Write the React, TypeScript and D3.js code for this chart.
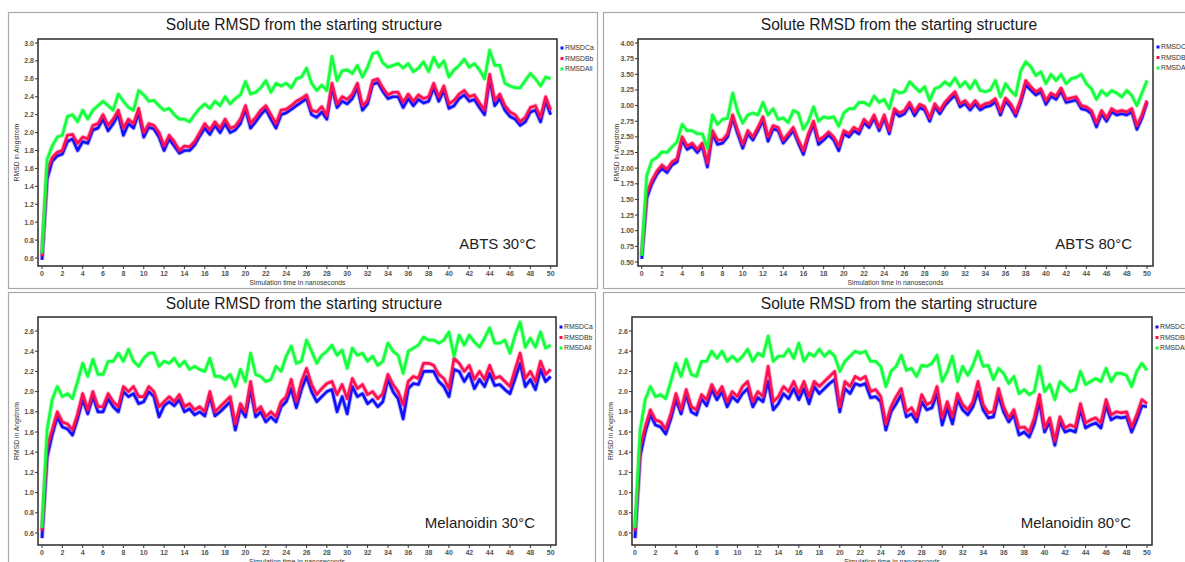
import React from "react";
import * as d3 from "d3";

// sampling grid, ns
const times = d3.range(0, 50.001, 0.5);

const abts30All = [
  0.65, 1.7, 1.85, 1.95, 1.97, 2.18, 2.2, 2.12, 2.25, 2.15,
  2.25, 2.3, 2.35, 2.3, 2.25, 2.43, 2.35, 2.28, 2.25, 2.47,
  2.42, 2.35, 2.36, 2.3, 2.25, 2.27, 2.2, 2.15, 2.15, 2.12,
  2.2, 2.27, 2.32, 2.27, 2.35, 2.3, 2.4, 2.32, 2.38, 2.42,
  2.57, 2.43, 2.45, 2.5, 2.58, 2.45, 2.55, 2.52, 2.55, 2.5,
  2.6, 2.62, 2.72, 2.55, 2.47, 2.53, 2.47, 2.85, 2.58, 2.69,
  2.7, 2.66, 2.75, 2.62, 2.73, 2.88, 2.9, 2.78, 2.73, 2.75,
  2.77, 2.72, 2.77, 2.68, 2.72, 2.79, 2.68, 2.84, 2.73, 2.8,
  2.62, 2.7, 2.75, 2.82, 2.73, 2.77, 2.7, 2.6, 2.92, 2.75,
  2.75, 2.55, 2.52, 2.5, 2.5, 2.58, 2.66, 2.6, 2.52, 2.62,
  2.6,
];
const abts30Bb = [
  0.62, 1.58, 1.72, 1.78, 1.8, 1.97, 1.98, 1.88, 1.95, 1.93,
  2.08, 2.1, 2.2, 2.08, 2.15, 2.25, 2.05, 2.15, 2.1, 2.27,
  2.0, 2.1, 2.08, 2.0, 1.85, 1.97, 1.9, 1.8, 1.85, 1.84,
  1.9, 2.0, 2.1, 2.03, 2.12, 2.05, 2.15, 2.05, 2.07, 2.15,
  2.3, 2.1, 2.17, 2.25, 2.3, 2.2, 2.1, 2.25, 2.26, 2.3,
  2.35, 2.38, 2.42, 2.25, 2.23, 2.29, 2.19, 2.55, 2.32, 2.4,
  2.37, 2.43, 2.55, 2.3, 2.36, 2.58, 2.6, 2.5, 2.42, 2.45,
  2.45, 2.34, 2.43, 2.35, 2.42, 2.38, 2.4, 2.55, 2.4, 2.52,
  2.32, 2.36, 2.43, 2.47, 2.4, 2.42, 2.33, 2.25, 2.65, 2.36,
  2.43, 2.3, 2.23, 2.2, 2.12, 2.17, 2.28, 2.3, 2.17, 2.4,
  2.25,
];
const abts30Ca = [
  0.58, 1.48, 1.68, 1.74, 1.76, 1.9, 1.93, 1.8, 1.9, 1.88,
  2.03, 2.05, 2.15, 2.02, 2.1, 2.2, 1.97, 2.1, 2.05, 2.22,
  1.95, 2.06, 2.04, 1.95, 1.8, 1.93, 1.85, 1.77, 1.8, 1.8,
  1.86, 1.96, 2.05, 1.98, 2.08, 2.0, 2.1, 2.0, 2.03, 2.1,
  2.26, 2.05, 2.12, 2.2, 2.26, 2.15, 2.05, 2.2, 2.22, 2.26,
  2.3, 2.34, 2.38, 2.2, 2.17, 2.23, 2.15, 2.5, 2.28, 2.35,
  2.32, 2.38, 2.5, 2.25, 2.32, 2.54, 2.56, 2.46, 2.38, 2.4,
  2.4, 2.28, 2.38, 2.3, 2.37, 2.33, 2.35, 2.5, 2.35, 2.47,
  2.27, 2.3, 2.38, 2.42, 2.35, 2.37, 2.28, 2.2, 2.6, 2.3,
  2.38, 2.25, 2.18, 2.15, 2.08, 2.12, 2.23, 2.25, 2.12, 2.35,
  2.2,
];

const abts80All = [
  0.6, 1.88, 2.12, 2.17, 2.26, 2.25, 2.34, 2.42, 2.7, 2.6,
  2.6, 2.55, 2.55, 2.32, 2.85, 2.7, 2.78, 2.8, 3.2, 2.9,
  2.72, 2.85, 2.88, 2.85, 3.05, 2.85, 2.95, 2.78, 2.8, 2.73,
  2.92, 2.88, 2.62, 2.75, 2.98, 2.75, 2.82, 2.8, 2.82, 2.67,
  2.88, 2.95, 2.95, 3.05, 3.05, 3.0, 3.15, 3.05, 3.1, 2.95,
  3.25, 3.2, 3.22, 3.38, 3.3, 3.22, 3.3, 3.08, 3.27, 3.3,
  3.38, 3.32, 3.44, 3.3, 3.38, 3.27, 3.4, 3.24, 3.22, 3.25,
  3.4, 3.14, 3.35, 3.24, 3.16, 3.55, 3.7, 3.62, 3.48, 3.54,
  3.35, 3.5, 3.4, 3.5, 3.35, 3.43, 3.45, 3.5, 3.35, 3.27,
  3.1, 3.24, 3.16, 3.24, 3.2, 3.14, 3.24, 3.16, 3.0, 3.2,
  3.4,
];
const abts80Bb = [
  0.62, 1.6, 1.8, 1.95, 2.05, 1.98, 2.1, 2.15, 2.5, 2.35,
  2.4, 2.3, 2.4, 2.08, 2.6, 2.45, 2.45, 2.55, 2.85, 2.6,
  2.38, 2.6, 2.5, 2.65, 2.82, 2.5, 2.68, 2.65, 2.45, 2.55,
  2.65, 2.45, 2.28, 2.55, 2.75, 2.45, 2.5, 2.58, 2.5, 2.35,
  2.6, 2.55, 2.65, 2.6, 2.78, 2.7, 2.85, 2.65, 2.85, 2.6,
  2.95, 2.88, 2.92, 3.05, 2.9, 3.02, 2.98, 2.8, 3.03, 2.92,
  3.05, 3.14, 3.22, 3.03, 3.08, 2.98, 3.08, 2.98, 3.03, 3.05,
  3.11, 2.9, 3.12, 3.03, 2.88, 3.1, 3.4, 3.3, 3.22, 3.27,
  3.08, 3.2, 3.15, 3.28, 3.1, 3.12, 3.14, 3.0, 2.98, 2.92,
  2.72, 2.92, 2.8, 2.95, 2.9, 2.92, 2.9, 2.95, 2.68, 2.85,
  3.08,
];
const abts80Ca = [
  0.55, 1.52, 1.75, 1.9, 2.0, 1.93, 2.05, 2.1, 2.45, 2.3,
  2.35, 2.25, 2.35, 2.02, 2.55, 2.38, 2.4, 2.5, 2.8, 2.55,
  2.32, 2.55, 2.45, 2.6, 2.77, 2.43, 2.63, 2.6, 2.4, 2.5,
  2.6, 2.4, 2.22, 2.5, 2.7, 2.38, 2.45, 2.53, 2.45, 2.28,
  2.55, 2.5, 2.6, 2.55, 2.73, 2.65, 2.8, 2.6, 2.8, 2.55,
  2.9, 2.83, 2.87, 3.0, 2.84, 2.97, 2.93, 2.75, 2.98, 2.87,
  3.0, 3.09, 3.17, 2.98, 3.03, 2.93, 3.03, 2.93, 2.98, 3.0,
  3.06, 2.85, 3.07, 2.98, 2.83, 3.05, 3.33, 3.25, 3.17, 3.22,
  3.02, 3.15, 3.1, 3.23, 3.05, 3.07, 3.09, 2.95, 2.93, 2.87,
  2.66, 2.87, 2.75, 2.9, 2.85, 2.87, 2.85, 2.9, 2.62, 2.8,
  3.05,
];

const mel30All = [
  0.65, 1.62, 1.92, 2.05, 1.95, 1.98, 1.93, 2.1, 2.28, 2.15,
  2.32, 2.17, 2.17, 2.3, 2.3, 2.38, 2.3, 2.42, 2.3, 2.25,
  2.33, 2.38, 2.38, 2.25, 2.3, 2.28, 2.33, 2.25, 2.3, 2.22,
  2.25, 2.22, 2.2, 2.33, 2.15, 2.15, 2.12, 2.17, 2.05, 2.22,
  2.1, 2.38, 2.17, 2.15, 2.1, 2.12, 2.25, 2.2, 2.35, 2.45,
  2.28, 2.3, 2.51, 2.4, 2.28, 2.36, 2.4, 2.46, 2.36, 2.41,
  2.23, 2.43, 2.36, 2.38, 2.3, 2.35, 2.26, 2.3, 2.48, 2.4,
  2.36, 2.18, 2.4, 2.43, 2.46, 2.54, 2.51, 2.51, 2.48, 2.51,
  2.59, 2.35, 2.56, 2.46, 2.56, 2.49, 2.44, 2.53, 2.63, 2.48,
  2.48, 2.51, 2.38, 2.56, 2.69, 2.44, 2.53, 2.44, 2.59, 2.43,
  2.46,
];
const mel30Bb = [
  0.62, 1.45, 1.62, 1.8, 1.7, 1.68, 1.62, 1.78, 1.98, 1.82,
  2.0, 1.85, 1.85, 1.98, 1.9, 1.85, 2.05, 2.0, 2.05, 1.95,
  1.95, 2.05, 2.0, 1.85, 1.9, 1.95, 1.9, 1.97, 1.85, 1.88,
  1.82, 1.85, 1.8, 2.0, 1.8, 1.85, 1.9, 1.95, 1.68, 1.88,
  1.8, 2.1, 1.8, 1.85, 1.75, 1.8, 1.75, 1.9, 1.95, 2.12,
  1.9, 2.1, 2.23, 2.07, 1.97, 2.03, 2.08, 2.1, 1.97, 2.07,
  1.93, 2.13, 2.03, 2.07, 1.97, 2.0, 1.93, 1.98, 2.17, 2.07,
  2.0, 1.87, 2.1, 2.15, 2.13, 2.28, 2.28, 2.26, 2.17, 2.13,
  2.03, 2.33, 2.28, 2.2, 2.26, 2.12, 2.2, 2.12, 2.26, 2.13,
  2.15, 2.1, 2.05, 2.22, 2.38, 2.13, 2.2, 2.1, 2.3, 2.17,
  2.22,
];
const mel30Ca = [
  0.55, 1.35, 1.57, 1.75, 1.65, 1.63, 1.57, 1.73, 1.92, 1.78,
  1.95, 1.8, 1.8, 1.93, 1.85, 1.8, 2.0, 1.95, 1.98, 1.88,
  1.9, 2.0, 1.95, 1.75, 1.86, 1.9, 1.86, 1.92, 1.8, 1.83,
  1.77, 1.8, 1.76, 1.95, 1.76, 1.8, 1.85, 1.9, 1.62, 1.83,
  1.75, 2.02, 1.75, 1.8, 1.7, 1.75, 1.7, 1.85, 1.9, 2.03,
  1.84, 2.02, 2.15, 2.0, 1.9, 1.95, 2.0, 2.02, 1.8, 1.95,
  1.78, 2.05, 1.95, 1.98, 1.88, 1.92, 1.85, 1.9, 2.12, 2.0,
  1.93, 1.73, 2.03, 2.08, 2.07, 2.2, 2.2, 2.2, 2.1, 2.05,
  1.95, 2.22, 2.2, 2.1, 2.18, 2.03, 2.12, 2.05, 2.18, 2.06,
  2.07, 2.02, 1.98, 2.13, 2.28, 2.05, 2.12, 2.02, 2.22, 2.1,
  2.15,
];

const mel80All = [
  0.65, 1.62, 1.92, 2.05, 1.95, 1.97, 1.93, 2.1, 2.28, 2.15,
  2.32, 2.17, 2.15, 2.3, 2.3, 2.4, 2.33, 2.4, 2.3, 2.35,
  2.3, 2.35, 2.42, 2.3, 2.38, 2.35, 2.55, 2.3, 2.35, 2.35,
  2.42, 2.33, 2.48, 2.3, 2.38, 2.35, 2.42, 2.35, 2.4, 2.35,
  2.2, 2.3, 2.35, 2.4, 2.38, 2.4, 2.3, 2.3, 2.25, 2.05,
  2.2, 2.25, 2.36, 2.21, 2.23, 2.15, 2.26, 2.25, 2.28, 2.36,
  2.1, 2.2, 2.35, 2.1, 2.25, 2.16, 2.26, 2.4, 2.25, 2.26,
  2.12, 2.23, 2.18, 2.08, 2.15, 1.98, 2.02, 1.97, 2.0, 2.25,
  2.0, 2.07, 1.92, 2.1, 2.05, 2.0, 2.02, 2.2, 2.07, 2.1,
  2.13, 2.1, 2.23, 2.1, 2.18, 2.18, 2.16, 2.05, 2.2, 2.28,
  2.21,
];
const mel80Bb = [
  0.62, 1.45, 1.65, 1.82, 1.72, 1.7, 1.63, 1.78, 1.98, 1.82,
  2.02, 1.85, 1.82, 1.97, 1.92, 2.07, 1.97, 2.05, 1.9, 2.0,
  1.95, 2.05, 2.1, 1.9, 2.0, 1.95, 2.25, 1.9, 1.95, 2.05,
  2.0, 2.1, 1.98, 2.1, 1.95, 2.1, 2.05, 2.1, 2.15, 2.2,
  1.85, 2.1, 2.05, 2.15, 2.12, 2.15, 2.0, 2.02, 1.95, 1.68,
  1.85, 1.95, 2.03, 1.8, 1.84, 1.75, 1.97, 1.87, 1.9, 2.05,
  1.74, 1.9, 1.75, 1.98, 1.87, 1.82, 1.9, 2.1, 1.87, 1.79,
  1.8, 2.03, 1.85, 1.74, 1.82, 1.64, 1.65, 1.6, 1.74, 1.97,
  1.64, 1.74, 1.51, 1.75, 1.64, 1.67, 1.65, 1.88, 1.69, 1.72,
  1.74, 1.69, 1.92, 1.77, 1.8, 1.79, 1.8, 1.65, 1.77, 1.92,
  1.88,
];
const mel80Ca = [
  0.55, 1.36, 1.6, 1.77, 1.67, 1.65, 1.58, 1.73, 1.92, 1.78,
  1.97, 1.8, 1.77, 1.93, 1.86, 2.02, 1.92, 2.0, 1.85, 1.95,
  1.9, 1.98, 2.03, 1.85, 1.94, 1.9, 2.1, 1.82, 1.88, 1.98,
  1.93, 2.03, 1.92, 2.03, 1.88, 2.05, 1.98, 2.03, 2.08, 2.12,
  1.8, 2.03, 1.98, 2.08, 2.06, 2.08, 1.94, 1.95, 1.9, 1.62,
  1.8, 1.88, 1.97, 1.75, 1.78, 1.7, 1.9, 1.82, 1.84, 1.98,
  1.67, 1.84, 1.68, 1.92, 1.82, 1.77, 1.85, 2.0, 1.82, 1.74,
  1.75, 1.96, 1.8, 1.7, 1.77, 1.57, 1.6, 1.55, 1.68, 1.9,
  1.6, 1.7, 1.47, 1.7, 1.6, 1.62, 1.6, 1.82, 1.64, 1.67,
  1.69, 1.64, 1.86, 1.72, 1.75, 1.74, 1.75, 1.6, 1.72, 1.86,
  1.85,
];

const xTicks = d3.range(0, 51, 2);
const yTicksA30 = d3.range(0.6, 3.01, 0.2);
const yTicksA80 = d3.range(0.5, 4.01, 0.25);
const yTicksMel = d3.range(0.6, 2.61, 0.2);

const legendNames = ["RMSDCa", "RMSDBb", "RMSDAll"];
const colors = ["#1010ff", "#ff1052", "#12ff3a"];

const TITLE = "Solute RMSD from the starting structure";
const FONT = "'Liberation Sans', Arial, sans-serif";

type Spec = {
  id: string;
  label: string;
  frame: [number, number, number, number];
  plot: [number, number, number, number];
  xr: [number, number];
  yd: [number, number];
  yr: [number, number];
  yTicks: number[];
  yFmt: string;
  series: number[][];
  titleX: number;
  titleY: number;
  legend: [number, number];
};

const specs: Spec[] = [
  {
    id: "p1", label: "ABTS 30°C",
    frame: [8, 12, 597, 288], plot: [38, 39, 557, 266],
    xr: [42, 550.7], yd: [0.6, 3.0], yr: [258, 43],
    yTicks: yTicksA30, yFmt: ".1f",
    series: [abts30Ca, abts30Bb, abts30All],
    titleX: 304, titleY: 30, legend: [562, 48],
  },
  {
    id: "p2", label: "ABTS 80°C",
    frame: [603, 12, 1195, 288], plot: [638, 39, 1153, 266],
    xr: [641.7, 1147], yd: [0.5, 4.0], yr: [262, 43],
    yTicks: yTicksA80, yFmt: ".2f",
    series: [abts80Ca, abts80Bb, abts80All],
    titleX: 899, titleY: 30, legend: [1158, 47],
  },
  {
    id: "p3", label: "Melanoidin 30°C",
    frame: [8, 292, 595, 575], plot: [38, 317, 556, 545],
    xr: [42, 550.7], yd: [0.6, 2.6], yr: [533, 331],
    yTicks: yTicksMel, yFmt: ".1f",
    series: [mel30Ca, mel30Bb, mel30All],
    titleX: 304, titleY: 309, legend: [561, 327],
  },
  {
    id: "p4", label: "Melanoidin 80°C",
    frame: [603, 292, 1195, 575], plot: [632, 317, 1152, 545],
    xr: [635, 1147], yd: [0.6, 2.6], yr: [533, 331],
    yTicks: yTicksMel, yFmt: ".1f",
    series: [mel80Ca, mel80Bb, mel80All],
    titleX: 899, titleY: 309, legend: [1157, 327],
  },
];

function Panel({ s }: { s: Spec }) {
  const [l, t, r, b] = s.plot;
  const x = d3.scaleLinear().domain([0, 50]).range(s.xr);
  const y = d3.scaleLinear().domain(s.yd).range(s.yr);
  const line = d3
    .line<number>()
    .x((_, i) => x(times[i]))
    .y((d) => y(d));
  const fmt = d3.format(s.yFmt);
  const [fx1, fy1, fx2, fy2] = s.frame;

  return (
    <g fontFamily={FONT}>
      <rect x={fx1 + 0.5} y={fy1 + 0.5} width={fx2 - fx1} height={fy2 - fy1} fill="none" stroke="#a8a8a8" strokeWidth={1.2} />
      <text x={s.titleX} y={s.titleY} textAnchor="middle" fontSize={15.6} fill="#1a1a1a">
        {TITLE}
      </text>
      <defs>
        <clipPath id={"clip-" + s.id}>
          <rect x={l} y={t} width={r - l} height={b - t} />
        </clipPath>
      </defs>
      <rect x={l} y={t} width={r - l} height={b - t} fill="#fff" />
      <g clipPath={`url(#clip-${s.id})`}>
        {s.series.map((d, i) => (
          <g key={i}>
            <path d={line(d) ?? ""} fill="none" stroke={colors[i]} strokeOpacity={0.3} strokeWidth={4.6} strokeLinejoin="round" />
            <path d={line(d) ?? ""} fill="none" stroke={colors[i]} strokeWidth={2.7} strokeLinejoin="round" />
          </g>
        ))}
      </g>
      <rect x={l} y={t} width={r - l} height={b - t} fill="none" stroke="#2a2a2a" strokeWidth={1.5} />
      {s.yTicks.map((v) => (
        <g key={v}>
          <line x1={l - 3} x2={l} y1={y(v)} y2={y(v)} stroke="#333" />
          <text x={l - 4} y={y(v) + 2.5} textAnchor="end" fontSize={7} fontWeight="bold" fill="#555">
            {fmt(v)}
          </text>
        </g>
      ))}
      {xTicks.map((v) => (
        <g key={v}>
          <line x1={x(v)} x2={x(v)} y1={b} y2={b + 3} stroke="#333" />
          <text x={x(v)} y={b + 10} textAnchor="middle" fontSize={7} fontWeight="bold" fill="#555">
            {v}
          </text>
        </g>
      ))}
      <text x={(l + r) / 2} y={b + 19} textAnchor="middle" fontSize={6.8} fill="#333">
        Simulation time in nanoseconds
      </text>
      <text
        transform={`translate(${l - 19},${(t + b) / 2}) rotate(-90)`}
        textAnchor="middle"
        fontSize={6.8}
        fill="#333"
      >
        RMSD in Angstrom
      </text>
      <text x={r - 21} y={b - 17} textAnchor="end" fontSize={15} fill="#222">
        {s.label}
      </text>
      {legendNames.map((n, i) => (
        <g key={n}>
          <rect x={s.legend[0] - 1.5} y={s.legend[1] + i * 10.5 - 1.5} width={3} height={3} fill={colors[i]} />
          <text x={s.legend[0] + 3} y={s.legend[1] + i * 10.5 + 2.3} fontSize={6.8} fill="#333">
            {n}
          </text>
        </g>
      ))}
    </g>
  );
}

export default function App() {
  return (
    <svg
      width={1185}
      height={562}
      style={{ position: "absolute", left: 0, top: 0, background: "#fff" }}
    >
      {specs.map((s) => (
        <Panel key={s.id} s={s} />
      ))}
    </svg>
  );
}
